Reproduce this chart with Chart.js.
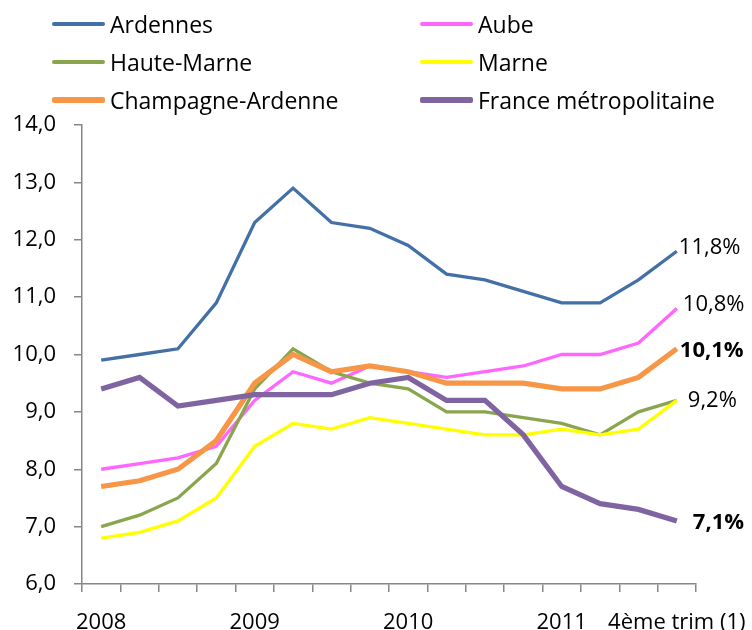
<!DOCTYPE html>
<html lang="fr">
<head>
<meta charset="utf-8">
<title>Taux de chômage</title>
<script src="https://cdn.jsdelivr.net/npm/chart.js@4.4.1/dist/chart.umd.min.js"></script>
<style>
  html, body { margin: 0; padding: 0; background: #fff; }
  #wrap { position: relative; width: 752px; height: 630px; font-family: 'Open Sans', sans-serif; }
  #chart { position: absolute; left: 0; top: 0; }
  .item { position: absolute; height: 30px; display: flex; align-items: center; font-size: 23px; color: #000; white-space: nowrap; }
  .item .swatch { display: inline-block; width: 53px; margin-right: 5px; border-radius: 2px; }
</style>
</head>
<body>
<div id="wrap">
  <canvas id="chart" width="752" height="630"></canvas>
  <div id="legend"></div>
</div>
<script>
// Quarters 2008 T1 .. 2011 T4 (tick labels shown only on some)
const periods = ['2008', '', '', '', '2009', '', '', '', '2010', '', '', '', '2011', '', '', '4ème trim (1)'];

const ardennes = [9.9, 10.0, 10.1, 10.9, 12.3, 12.9, 12.3, 12.2, 11.9, 11.4, 11.3, 11.1, 10.9, 10.9, 11.3, 11.8];
const aube = [8.0, 8.1, 8.2, 8.4, 9.2, 9.7, 9.5, 9.8, 9.7, 9.6, 9.7, 9.8, 10.0, 10.0, 10.2, 10.8];
const hauteMarne = [7.0, 7.2, 7.5, 8.1, 9.4, 10.1, 9.7, 9.5, 9.4, 9.0, 9.0, 8.9, 8.8, 8.6, 9.0, 9.2];
const marne = [6.8, 6.9, 7.1, 7.5, 8.4, 8.8, 8.7, 8.9, 8.8, 8.7, 8.6, 8.6, 8.7, 8.6, 8.7, 9.2];
const champagneArdenne = [7.7, 7.8, 8.0, 8.5, 9.5, 10.0, 9.7, 9.8, 9.7, 9.5, 9.5, 9.5, 9.4, 9.4, 9.6, 10.1];
const franceMetro = [9.4, 9.6, 9.1, 9.2, 9.3, 9.3, 9.3, 9.5, 9.6, 9.2, 9.2, 8.6, 7.7, 7.4, 7.3, 7.1];

const seriesNames = ['Ardennes', 'Aube', 'Haute-Marne', 'Marne', 'Champagne-Ardenne', 'France métropolitaine'];
const seriesValues = [ardennes, aube, hauteMarne, marne, champagneArdenne, franceMetro];
const seriesColors = ['#4470A8', '#FF66FF', '#89A54E', '#FFFF00', '#F79646', '#8064A2'];
const seriesWidths = [3.3, 3.3, 3.3, 3.3, 5.2, 5.2];

const yMin = 6, yMax = 14, yStep = 1;

const FONT = "'Open Sans', sans-serif";
const AXIS_GREY = '#868686';

function frNum(v) {
  return v.toFixed(1).replace('.', ',');
}

// legend (two columns, three rows)
const legendCols = [52, 420];
const legendRows = [24, 62, 100];
const legendEl = document.getElementById('legend');
seriesNames.forEach((name, i) => {
  const item = document.createElement('div');
  item.className = 'item';
  item.style.left = legendCols[i % 2] + 'px';
  item.style.top = (legendRows[Math.floor(i / 2)] - 15) + 'px';
  const sw = document.createElement('span');
  sw.className = 'swatch';
  sw.style.height = seriesWidths[i] + 'px';
  sw.style.background = seriesColors[i];
  item.appendChild(sw);
  item.appendChild(document.createTextNode(name));
  legendEl.appendChild(item);
});

// labels at the end of some lines
const endLabels = [
  { series: 0, bold: false, dx: 2, dy: -5 },
  { series: 1, bold: false, dx: 6, dy: -6 },
  { series: 4, bold: true, dx: 3, dy: 0 },
  { series: 3, bold: false, dx: 11, dy: -1 },
  { series: 5, bold: true, dx: 16, dy: 0 }
];

const endLabelPlugin = {
  id: 'endLabels',
  afterDatasetsDraw(chart) {
    const ctx = chart.ctx;
    ctx.save();
    ctx.fillStyle = '#000';
    ctx.textAlign = 'left';
    ctx.textBaseline = 'alphabetic';
    endLabels.forEach(l => {
      const meta = chart.getDatasetMeta(l.series);
      const pt = meta.data[meta.data.length - 1];
      const vals = seriesValues[l.series];
      ctx.font = (l.bold ? 'bold ' : '') + '22px ' + FONT;
      ctx.fillText(frNum(vals[vals.length - 1]) + '%', pt.x + l.dx, pt.y + l.dy + 8);
    });
    ctx.restore();
  }
};

const chart = new Chart(document.getElementById('chart').getContext('2d'), {
  type: 'line',
  data: {
    labels: periods,
    datasets: seriesNames.map((name, i) => ({
      label: name,
      data: seriesValues[i],
      borderColor: seriesColors[i],
      backgroundColor: seriesColors[i],
      borderWidth: seriesWidths[i],
      pointRadius: 0,
      tension: 0,
      fill: false,
      order: seriesNames.length - 1 - i
    }))
  },
  options: {
    responsive: false,
    animation: false,
    layout: { padding: { left: 0, top: 125, right: 56, bottom: 0 } },
    plugins: {
      legend: { display: false },
      tooltip: { enabled: false }
    },
    scales: {
      x: {
        offset: true,
        grid: { offset: true, drawOnChartArea: false, tickLength: 8, color: AXIS_GREY, lineWidth: 1.5 },
        border: { color: AXIS_GREY, width: 1.5 },
        ticks: { autoSkip: false, maxRotation: 0, minRotation: 0, padding: 18, color: '#000', font: { family: FONT, size: 22 } },
        afterFit: s => { s.height = 46; s.paddingLeft = 0; s.paddingRight = 0; }
      },
      y: {
        min: yMin,
        max: yMax,
        grid: { drawOnChartArea: false, tickLength: 8, color: AXIS_GREY, lineWidth: 1.5 },
        border: { color: AXIS_GREY, width: 1.5 },
        ticks: { stepSize: yStep, padding: 18, color: '#000', font: { family: FONT, size: 22 }, callback: v => frNum(v) },
        afterFit: s => { s.width = 82; }
      }
    }
  },
  plugins: [endLabelPlugin]
});
</script>
</body>
</html>
